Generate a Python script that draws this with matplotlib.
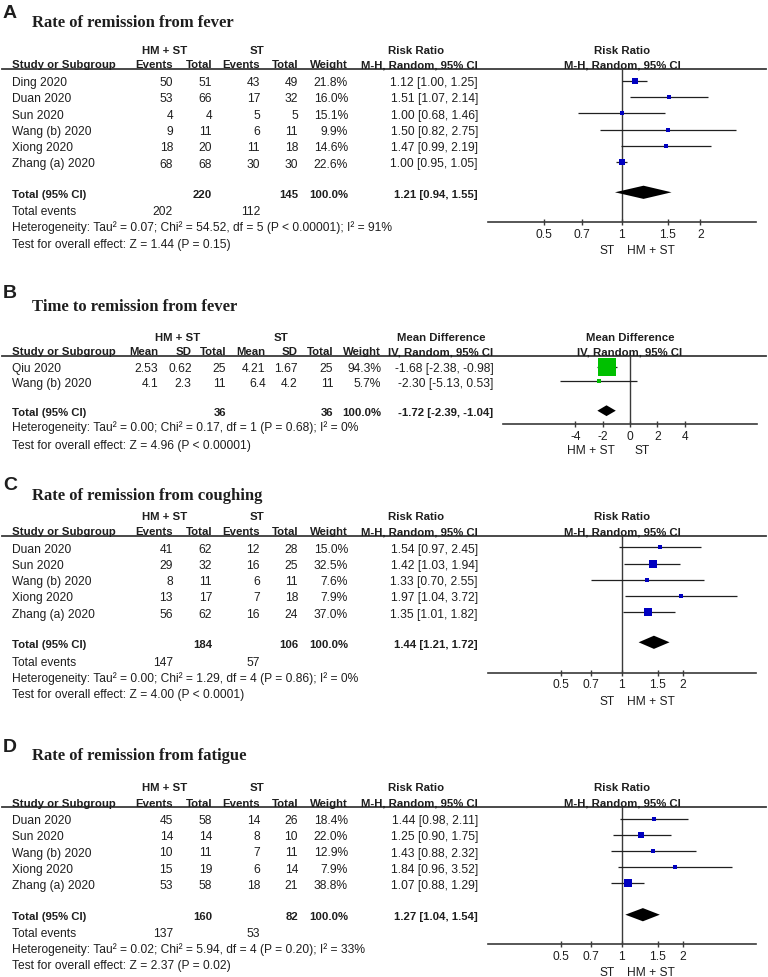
import matplotlib
matplotlib.use('Agg')
import matplotlib.pyplot as plt
from matplotlib.ticker import NullLocator

# ---------------- DATA ----------------
# Panel A: Rate of remission from fever (Risk Ratio)
A_title = "Rate of remission from fever"
A_study = ["Ding 2020", "Duan 2020", "Sun 2020", "Wang (b) 2020", "Xiong 2020", "Zhang (a) 2020"]
A_hm_events = [50, 53, 4, 9, 18, 68]
A_hm_total = [51, 66, 4, 11, 20, 68]
A_st_events = [43, 17, 5, 6, 11, 30]
A_st_total = [49, 32, 5, 11, 18, 30]
A_weight = [21.8, 16.0, 15.1, 9.9, 14.6, 22.6]
A_est = [1.12, 1.51, 1.00, 1.50, 1.47, 1.00]
A_lo = [1.00, 1.07, 0.68, 0.82, 0.99, 0.95]
A_hi = [1.25, 2.14, 1.46, 2.75, 2.19, 1.05]
A_total = [1.21, 0.94, 1.55]
A_tot_n = [220, 145]
A_tot_events = [202, 112]
A_het = "Heterogeneity: Tau² = 0.07; Chi² = 54.52, df = 5 (P < 0.00001); I² = 91%"
A_test = "Test for overall effect: Z = 1.44 (P = 0.15)"

# Panel B: Time to remission from fever (Mean Difference)
B_title = "Time to remission from fever"
B_study = ["Qiu 2020", "Wang (b) 2020"]
B_hm_mean = [2.53, 4.1]
B_hm_sd = [0.62, 2.3]
B_hm_n = [25, 11]
B_st_mean = [4.21, 6.4]
B_st_sd = [1.67, 4.2]
B_st_n = [25, 11]
B_weight = [94.3, 5.7]
B_est = [-1.68, -2.30]
B_lo = [-2.38, -5.13]
B_hi = [-0.98, 0.53]
B_total = [-1.72, -2.39, -1.04]
B_tot_n = [36, 36]
B_het = "Heterogeneity: Tau² = 0.00; Chi² = 0.17, df = 1 (P = 0.68); I² = 0%"
B_test = "Test for overall effect: Z = 4.96 (P < 0.00001)"

# Panel C: Rate of remission from coughing
C_title = "Rate of remission from coughing"
C_study = ["Duan 2020", "Sun 2020", "Wang (b) 2020", "Xiong 2020", "Zhang (a) 2020"]
C_hm_events = [41, 29, 8, 13, 56]
C_hm_total = [62, 32, 11, 17, 62]
C_st_events = [12, 16, 6, 7, 16]
C_st_total = [28, 25, 11, 18, 24]
C_weight = [15.0, 32.5, 7.6, 7.9, 37.0]
C_est = [1.54, 1.42, 1.33, 1.97, 1.35]
C_lo = [0.97, 1.03, 0.70, 1.04, 1.01]
C_hi = [2.45, 1.94, 2.55, 3.72, 1.82]
C_total = [1.44, 1.21, 1.72]
C_tot_n = [184, 106]
C_tot_events = [147, 57]
C_het = "Heterogeneity: Tau² = 0.00; Chi² = 1.29, df = 4 (P = 0.86); I² = 0%"
C_test = "Test for overall effect: Z = 4.00 (P < 0.0001)"

# Panel D: Rate of remission from fatigue
D_title = "Rate of remission from fatigue"
D_study = ["Duan 2020", "Sun 2020", "Wang (b) 2020", "Xiong 2020", "Zhang (a) 2020"]
D_hm_events = [45, 14, 10, 15, 53]
D_hm_total = [58, 14, 11, 19, 58]
D_st_events = [14, 8, 7, 6, 18]
D_st_total = [26, 10, 11, 14, 21]
D_weight = [18.4, 22.0, 12.9, 7.9, 38.8]
D_est = [1.44, 1.25, 1.43, 1.84, 1.07]
D_lo = [0.98, 0.90, 0.88, 0.96, 0.88]
D_hi = [2.11, 1.75, 2.32, 3.52, 1.29]
D_total = [1.27, 1.04, 1.54]
D_tot_n = [160, 82]
D_tot_events = [137, 53]
D_het = "Heterogeneity: Tau² = 0.02; Chi² = 5.94, df = 4 (P = 0.20); I² = 33%"
D_test = "Test for overall effect: Z = 2.37 (P = 0.02)"

RR_ticks = [0.5, 0.7, 1, 1.5, 2]
RR_ticklabels = ["0.5", "0.7", "1", "1.5", "2"]
MD_ticks = [-4, -2, 0, 2, 4]
MD_ticklabels = ["-4", "-2", "0", "2", "4"]

# ---------------- STYLE / LAYOUT ----------------
W, H = 768, 978
SANS = ['Liberation Sans', 'DejaVu Sans']
SERIF = ['Liberation Serif', 'DejaVu Serif']
FS = 8.65
FSB = 8.2
TXT = '#1e1e1e'
LINE = '#3a3a3a'
BLUE = '#0000c0'
GREEN = '#00c000'
HALF_CAP = 4.3  # px from visual centre of digits/caps to baseline

fig = plt.figure(figsize=(W / 100, H / 100), dpi=100)
bg = fig.add_axes([0, 0, 1, 1])
bg.set_xlim(0, W)
bg.set_ylim(H, 0)
bg.axis('off')


def txt(x, y, s, ha='left', bold=False, size=None, family=SANS, base=False):
    """y is visual centre of cap height unless base=True (then baseline)."""
    if size is None:
        size = FSB if bold else FS
    yy = y if base else y + HALF_CAP
    bg.text(x, yy, s, ha=ha, va='baseline', fontsize=size, family=family,
            fontweight='bold' if bold else 'normal', color=TXT)


def square_pt(w):
    px = max(3.3, 0.175 * w + 1.5)
    return px * 0.72


def forest_axes(xl, xr, ytop, ybot, row0, dy, xlim, log, ticks, labels, ref):
    ax = fig.add_axes([xl / W, 1 - ybot / H, (xr - xl) / W, (ybot - ytop) / H])
    ax.patch.set_alpha(0)
    ax.set_ylim((ybot - row0) / dy, (ytop - row0) / dy)
    if log:
        ax.set_xscale('log')
    ax.set_xlim(*xlim)
    for s in ['top', 'left', 'right']:
        ax.spines[s].set_visible(False)
    ax.spines['bottom'].set_color(LINE)
    ax.spines['bottom'].set_linewidth(1.2)
    ax.set_xticks(ticks)
    ax.set_xticklabels(labels, family=SANS)
    ax.xaxis.set_minor_locator(NullLocator())
    ax.set_yticks([])
    ax.tick_params(axis='x', direction='inout', length=5, width=1, colors=LINE,
                   labelsize=FS, pad=1.5, labelcolor=TXT)
    ax.axvline(ref, color=LINE, lw=1.0, zorder=1)
    return ax


def draw_panel_header(letter, title, L):
    txt(3, L['letter'], letter, bold=True, size=14, base=True)
    txt(32, L['title'], title, bold=True, size=12, family=SERIF, base=True)
    bg.plot([2, 766], [L['rule'], L['rule']], color=LINE, lw=1.3)


def draw_rr(letter, title, study, he, ht, se, stt, weight, est, lo, hi,
            total, tot_n, tot_events, het, test, L):
    draw_panel_header(letter, title, L)
    cols = [173, 212, 260, 298, 348, 478]
    h1, h2 = L['h1'], L['rule'] - 1.4
    txt(165, h1, "HM + ST", ha='center', bold=True, base=True)
    txt(257, h1, "ST", ha='center', bold=True, base=True)
    txt(416, h1, "Risk Ratio", ha='center', bold=True, base=True)
    txt(622, h1, "Risk Ratio", ha='center', bold=True, base=True)
    txt(12, h2, "Study or Subgroup", bold=True, base=True)
    for c, s in zip(cols, ["Events", "Total", "Events", "Total", "Weight",
                           "M-H, Random, 95% CI"]):
        txt(c, h2, s, ha='right', bold=True, base=True)
    txt(622, h2, "M-H, Random, 95% CI", ha='center', bold=True, base=True)
    row0, dy = L['row0'], L['dy']
    for i, name in enumerate(study):
        y = row0 + i * dy
        txt(12, y, name)
        vals = [str(he[i]), str(ht[i]), str(se[i]), str(stt[i]),
                f"{weight[i]:.1f}%", f"{est[i]:.2f} [{lo[i]:.2f}, {hi[i]:.2f}]"]
        for c, s in zip(cols, vals):
            txt(c, y, s, ha='right')
    ty = L['total']
    txt(12, ty, "Total (95% CI)", bold=True)
    txt(cols[1], ty, str(tot_n[0]), ha='right', bold=True)
    txt(cols[3], ty, str(tot_n[1]), ha='right', bold=True)
    txt(cols[4], ty, f"{sum(weight):.1f}%", ha='right', bold=True)
    txt(cols[5], ty, f"{total[0]:.2f} [{total[1]:.2f}, {total[2]:.2f}]", ha='right', bold=True)
    fy = L['foot']
    txt(12, fy[0], "Total events")
    txt(cols[0], fy[0], str(tot_events[0]), ha='right')
    txt(cols[2], fy[0], str(tot_events[1]), ha='right')
    txt(12, fy[1], het)
    txt(12, fy[2], test)

    ax = forest_axes(488, 756, L['rule'], L['axis'], row0, dy, L['xlim'], True,
                     RR_ticks, RR_ticklabels, 1)
    rows = list(range(len(study)))
    ax.hlines(rows, lo, hi, color='#202020', lw=0.9, zorder=2)
    for r, e, w in zip(rows, est, weight):
        ax.plot([e], [r], marker='s', ms=square_pt(w), color=BLUE, mec=BLUE,
                mew=0, zorder=3)
    yt = (ty - row0) / dy
    hh = 6.6 / dy
    ax.fill([total[1], total[0], total[2], total[0]], [yt, yt - hh, yt, yt + hh],
            color='black', lw=0, zorder=3)
    txt(615, L['fav'], "ST", ha='right')
    txt(627, L['fav'], "HM + ST", ha='left')


# ---- Panel A ----
LA = dict(letter=18, title=26.7, h1=54, rule=69.5, row0=81.7, dy=16.3,
          total=193.3, foot=[210.5, 227, 243.3], axis=223.3, fav=250,
          xlim=(0.306, 3.27))
draw_rr("A", A_title, A_study, A_hm_events, A_hm_total, A_st_events, A_st_total,
        A_weight, A_est, A_lo, A_hi, A_total, A_tot_n, A_tot_events, A_het, A_test, LA)

# ---- Panel B ----
LB = dict(letter=298.5, title=310.7, h1=340.7, rule=356.7, row0=367.7,
          dy=14.7, total=411.7, foot=[426.7, 444.3], axis=425, fav=450)
draw_panel_header("B", B_title, LB)
colsB = [158, 191.7, 226, 265.7, 297.3, 333.3, 381, 493.3]
h2B = LB['rule'] - 1.4
txt(178, LB['h1'], "HM + ST", ha='center', bold=True, base=True)
txt(281, LB['h1'], "ST", ha='center', bold=True, base=True)
txt(441, LB['h1'], "Mean Difference", ha='center', bold=True, base=True)
txt(630, LB['h1'], "Mean Difference", ha='center', bold=True, base=True)
txt(12, h2B, "Study or Subgroup", bold=True, base=True)
for c, s in zip(colsB, ["Mean", "SD", "Total", "Mean", "SD", "Total", "Weight",
                        "IV, Random, 95% CI"]):
    txt(c, h2B, s, ha='right', bold=True, base=True)
txt(630, h2B, "IV, Random, 95% CI", ha='center', bold=True, base=True)
for i, name in enumerate(B_study):
    y = LB['row0'] + i * LB['dy']
    txt(12, y, name)
    vals = [str(B_hm_mean[i]), str(B_hm_sd[i]), str(B_hm_n[i]), str(B_st_mean[i]),
            str(B_st_sd[i]), str(B_st_n[i]), f"{B_weight[i]:.1f}%",
            f"{B_est[i]:.2f} [{B_lo[i]:.2f}, {B_hi[i]:.2f}]"]
    for c, s in zip(colsB, vals):
        txt(c, y, s, ha='right')
tyB = LB['total']
txt(12, tyB, "Total (95% CI)", bold=True)
txt(colsB[2], tyB, str(B_tot_n[0]), ha='right', bold=True)
txt(colsB[5], tyB, str(B_tot_n[1]), ha='right', bold=True)
txt(colsB[6], tyB, f"{sum(B_weight):.1f}%", ha='right', bold=True)
txt(colsB[7], tyB, f"{B_total[0]:.2f} [{B_total[1]:.2f}, {B_total[2]:.2f}]", ha='right', bold=True)
txt(12, LB['foot'][0], B_het)
txt(12, LB['foot'][1], B_test)
axB = forest_axes(503, 757, LB['rule'], LB['axis'], LB['row0'], LB['dy'], (-9.3, 9.3),
                  False, MD_ticks, MD_ticklabels, 0)
rowsB = list(range(len(B_study)))
axB.hlines(rowsB, B_lo, B_hi, color='#202020', lw=0.9, zorder=2)
for r, e, w in zip(rowsB, B_est, B_weight):
    axB.plot([e], [r], marker='s', ms=min(square_pt(w), 12.3), color=GREEN, mec=GREEN,
             mew=0, zorder=3)
ytB = (tyB - LB['row0']) / LB['dy']
hhB = 5.4 / LB['dy']
axB.fill([B_total[1], B_total[0], B_total[2], B_total[0]],
         [ytB, ytB - hhB, ytB, ytB + hhB], color='black', lw=0, zorder=3)
txt(615, LB['fav'], "HM + ST", ha='right')
txt(635, LB['fav'], "ST", ha='left')

# ---- Panel C ----
LC = dict(letter=490, title=500, h1=520, rule=536.7, row0=548.3, dy=16.25,
          total=643.3, foot=[661.3, 677.3, 693.3], axis=673.5, fav=700.7,
          xlim=(0.218, 4.6))
draw_rr("C", C_title, C_study, C_hm_events, C_hm_total, C_st_events, C_st_total,
        C_weight, C_est, C_lo, C_hi, C_total, C_tot_n, C_tot_events, C_het, C_test, LC)

# ---- Panel D ----
LD = dict(letter=751.7, title=760, h1=791, rule=808.3, row0=820, dy=16.1,
          total=915.7, foot=[932.7, 949, 965], axis=945, fav=971.7,
          xlim=(0.218, 4.6))
draw_rr("D", D_title, D_study, D_hm_events, D_hm_total, D_st_events, D_st_total,
        D_weight, D_est, D_lo, D_hi, D_total, D_tot_n, D_tot_events, D_het, D_test, LD)

fig.savefig('out.png', dpi=100, facecolor='white')
